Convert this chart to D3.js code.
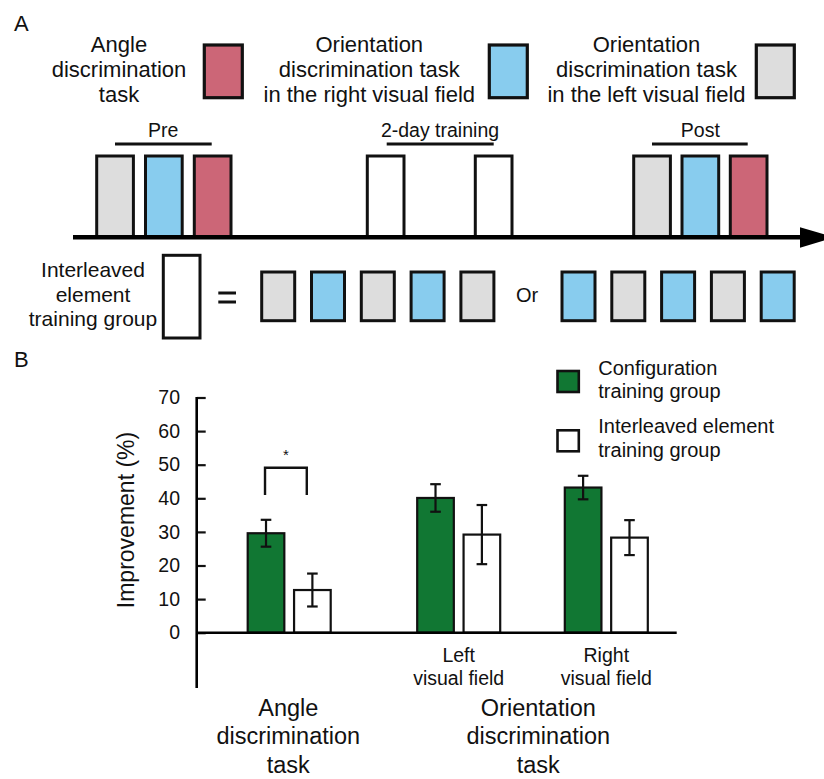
<!DOCTYPE html>
<html>
<head>
<meta charset="utf-8">
<script src="https://cdn.jsdelivr.net/npm/d3@7/dist/d3.min.js"></script>
<style>
  html, body { margin: 0; padding: 0; background: #fff; }
  svg { display: block; }
  text { font-family: "Liberation Sans", Arial, sans-serif; fill: #111; }
</style>
</head>
<body>
<svg id="chart" width="824" height="779"></svg>
<script>
// ---------------- DATA ----------------
// Panel A: task legend
const taskNames = [
  ["Angle", "discrimination", "task"],
  ["Orientation", "discrimination task", "in the right visual field"],
  ["Orientation", "discrimination task", "in the left visual field"]
];
const taskKeys = ["angle", "right", "left"];
const taskColors = { angle: "#cc6677", right: "#88ccee", left: "#dddddd", train: "#ffffff" };

// Panel A: timeline sessions
const preSessions = ["left", "right", "angle"];
const trainingSessions = ["train", "train"];
const postSessions = ["left", "right", "angle"];
const phaseLabels = ["Pre", "2-day training", "Post"];

// Panel A: interleaved element training sequences
const interleavedLabel = ["Interleaved", "element", "training group"];
const sequenceA = ["left", "right", "left", "right", "left"];
const sequenceB = ["right", "left", "right", "left", "right"];

// Panel B: bar chart
const conditions = ["angle", "leftVF", "rightVF"];
const conditionLabels = [[], ["Left", "visual field"], ["Right", "visual field"]];
const groups = ["config", "inter"];
const groupLabels = [["Configuration", "training group"], ["Interleaved element", "training group"]];
const groupColors = { config: "#117733", inter: "#ffffff" };
const configValues = [29.6, 40.1, 43.2];
const configErrors = [4.0, 4.1, 3.5];
const interValues = [12.7, 29.2, 28.3];
const interErrors = [4.9, 8.8, 5.2];
const yTicks = [0, 10, 20, 30, 40, 50, 60, 70];
const taskLabels = [["Angle", "discrimination", "task"], ["Orientation", "discrimination", "task"]];

// ---------------- DRAW ----------------
const svg = d3.select("#chart");
const FONT = "Liberation Sans, Arial, sans-serif";

function multiline(g, lines, x, y0, dy, size, anchor) {
  lines.forEach((l, i) => {
    g.append("text").attr("x", x).attr("y", y0 + i * dy)
      .attr("text-anchor", anchor || "middle")
      .attr("font-size", size).text(l);
  });
}

// ---- Panel A ----
svg.append("text").attr("x", 14).attr("y", 31).attr("font-size", 22).text("A");

const legA = svg.append("g");
const legTextX = [119, 369.3, 646.5];
const legBoxX = [204.3, 489.3, 756.3];
taskNames.forEach((lines, i) => {
  multiline(legA, lines, legTextX[i], 51.7, 25, 22);
  legA.append("rect").attr("x", legBoxX[i]).attr("y", 45)
    .attr("width", 38).attr("height", 52.7)
    .attr("fill", taskColors[taskKeys[i]]).attr("stroke", "#111").attr("stroke-width", 3.2);
});

// timeline boxes
const tl = svg.append("g");
const boxW = 36.7, boxTop = 156, axisY = 237.3;
const phaseStarts = [96.7, 367.3, 633.7];
const phaseSteps = [48.8, 108, 48.3];
[preSessions, trainingSessions, postSessions].forEach((seq, p) => {
  const xs = d3.scaleLinear().domain([0, 1]).range([phaseStarts[p], phaseStarts[p] + phaseSteps[p]]);
  tl.selectAll(null).data(seq).enter().append("rect")
    .attr("x", (d, i) => xs(i)).attr("y", boxTop)
    .attr("width", boxW).attr("height", axisY - boxTop)
    .attr("fill", d => taskColors[d]).attr("stroke", "#111").attr("stroke-width", 3);
});
// phase labels and underlines
const phaseLabelX = [163.3, 440, 700.3];
const phaseLine = [[115, 211.7], [386.7, 493.7], [652, 747.7]];
phaseLabels.forEach((lab, i) => {
  tl.append("text").attr("x", phaseLabelX[i]).attr("y", 137).attr("text-anchor", "middle")
    .attr("font-size", 19.5).text(lab);
  tl.append("line").attr("x1", phaseLine[i][0]).attr("x2", phaseLine[i][1])
    .attr("y1", 144).attr("y2", 144).attr("stroke", "#111").attr("stroke-width", 3);
});
// time axis with arrow
tl.append("line").attr("x1", 73).attr("x2", 805).attr("y1", axisY).attr("y2", axisY)
  .attr("stroke", "#000").attr("stroke-width", 4.5);
tl.append("path").attr("d", d3.line()([[800, axisY - 10], [834, axisY], [800, axisY + 10.5]]) + "Z")
  .attr("fill", "#000");

// interleaved row
const row = svg.append("g");
multiline(row, interleavedLabel, 93, 277.3, 24.5, 21);
row.append("rect").attr("x", 163.3).attr("y", 255.3).attr("width", 36.7).attr("height", 82.7)
  .attr("fill", "#fff").attr("stroke", "#111").attr("stroke-width", 3);
[293, 302].forEach(y => row.append("line").attr("x1", 218.3).attr("x2", 236)
  .attr("y1", y).attr("y2", y).attr("stroke", "#111").attr("stroke-width", 3));
const seqStarts = [261.7, 562];
[sequenceA, sequenceB].forEach((seq, s) => {
  const xs = d3.scaleLinear().domain([0, 1]).range([seqStarts[s], seqStarts[s] + 49.8]);
  row.selectAll(null).data(seq).enter().append("rect")
    .attr("x", (d, i) => xs(i)).attr("y", 272)
    .attr("width", 33).attr("height", 48.7)
    .attr("fill", d => taskColors[d]).attr("stroke", "#111").attr("stroke-width", 3);
});
row.append("text").attr("x", 527).attr("y", 302).attr("text-anchor", "middle")
  .attr("font-size", 20).text("Or");

// ---- Panel B ----
svg.append("text").attr("x", 14).attr("y", 366.5).attr("font-size", 22).text("B");

const y = d3.scaleLinear().domain([0, 70]).range([632.7, 397.5]);
const axisX = 196.7;
const x0 = d3.scaleOrdinal().domain(conditions).range([289.2, 458.7, 606.3]);
const x1 = d3.scaleBand().domain(groups).range([-41.5, 41.5]).paddingInner(0.21);

const gB = svg.append("g");
const yAxis = d3.axisLeft(y).tickValues(yTicks).tickSizeInner(-9).tickSizeOuter(0).tickPadding(16.7);
const ya = gB.append("g").attr("transform", `translate(${axisX},0)`).call(yAxis);
ya.select(".domain").remove();
ya.selectAll(".tick line").attr("stroke", "#111").attr("stroke-width", 2.2);
ya.selectAll(".tick text").attr("font-size", 19.5).attr("font-family", FONT).attr("fill", "#111");

// bars
const series = [
  { key: "config", values: configValues, errors: configErrors },
  { key: "inter", values: interValues, errors: interErrors }
];
series.forEach(s => {
  const data = conditions.map((c, i) => ({ c, v: s.values[i], e: s.errors[i] }));
  const g = gB.append("g");
  g.selectAll("rect").data(data).enter().append("rect")
    .attr("x", d => x0(d.c) + x1(s.key))
    .attr("y", d => y(d.v))
    .attr("width", x1.bandwidth())
    .attr("height", d => y(0) - y(d.v))
    .attr("fill", groupColors[s.key]).attr("stroke", "#111").attr("stroke-width", 2.2);
  const eg = g.selectAll("g.err").data(data).enter().append("g").attr("class", "err")
    .attr("transform", d => `translate(${x0(d.c) + x1(s.key) + x1.bandwidth() / 2},0)`);
  eg.append("line").attr("y1", d => y(d.v + d.e)).attr("y2", d => y(d.v - d.e))
    .attr("stroke", "#111").attr("stroke-width", 2.2);
  [1, -1].forEach(sg => eg.append("line").attr("x1", -5.3).attr("x2", 5.3)
    .attr("y1", d => y(d.v + sg * d.e)).attr("y2", d => y(d.v + sg * d.e))
    .attr("stroke", "#111").attr("stroke-width", 2.2));
});

// axes lines
gB.append("line").attr("x1", axisX).attr("x2", axisX).attr("y1", y(70) - 0.5).attr("y2", 688)
  .attr("stroke", "#000").attr("stroke-width", 2.6);
gB.append("line").attr("x1", axisX).attr("x2", 676.7).attr("y1", y(0)).attr("y2", y(0))
  .attr("stroke", "#000").attr("stroke-width", 2.6);

// significance bracket
const bl = x0("angle") + x1("config") + x1.bandwidth() / 2 - 1;
const br = x0("angle") + x1("inter") + x1.bandwidth() / 2 - 5.6;
gB.append("path").attr("d", d3.line()([[bl, y(41)], [bl, y(49.1)], [br, y(49.1)], [br, y(41)]]))
  .attr("fill", "none").attr("stroke", "#111").attr("stroke-width", 2.4);
gB.append("text").attr("x", (bl + br) / 2).attr("y", 460).attr("text-anchor", "middle")
  .attr("font-size", 15).text("*");

// condition labels
conditions.forEach((c, i) => multiline(gB, conditionLabels[i], x0(c), 661.7, 23.5, 19.5));
// task labels
multiline(gB, taskLabels[0], 288.3, 715.5, 28.8, 23.5);
multiline(gB, taskLabels[1], 538.3, 715.5, 28.8, 23.5);

// y label
gB.append("text").attr("transform", "translate(133.5,520) rotate(-90)")
  .attr("text-anchor", "middle").attr("font-size", 23).text("Improvement (%)");

// legend B
const legB = svg.append("g");
groups.forEach((gk, i) => {
  legB.append("rect").attr("x", 557.5).attr("y", 371 + i * 59.3).attr("width", 21.3).attr("height", 21)
    .attr("fill", groupColors[gk]).attr("stroke", "#111").attr("stroke-width", 2.6);
  multiline(legB, groupLabels[i], 598.3, 374.5 + i * 58.8, 23.5, 20, "start");
});
</script>
</body>
</html>
